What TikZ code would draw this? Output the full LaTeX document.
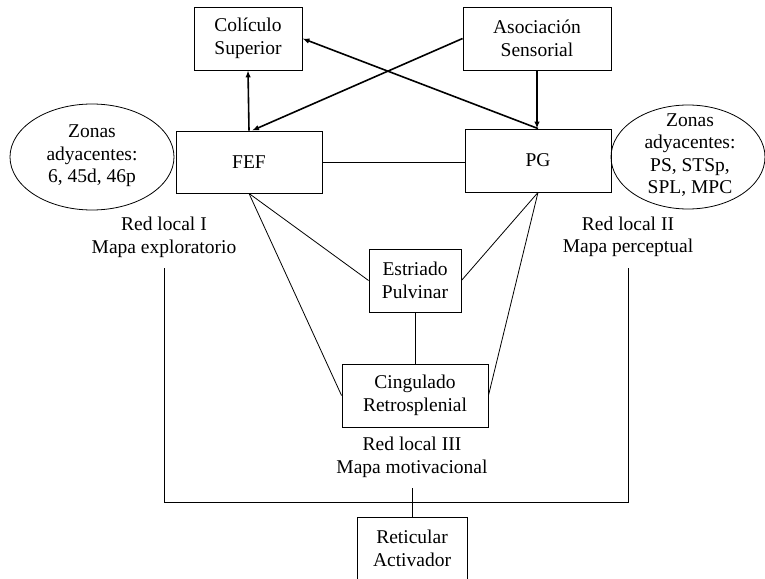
\documentclass[tikz,border=0pt]{standalone}
\usepackage{fontspec}
\setmainfont{Liberation Serif}
\usetikzlibrary{arrows.meta,shapes.geometric}
\begin{document}
\begin{tikzpicture}[x=1pt,y=-1pt,
  every node/.style={font=\fontsize{19.5}{22.5}\selectfont, align=center, inner sep=0pt},
  box/.style={draw, line width=0.9pt, rectangle},
  oval/.style={draw, ellipse, line width=0.8pt},
  arr/.style={line width=1.6pt, -{Latex[length=7pt,width=5.5pt]}},
  link/.style={line width=0.8pt}]
\useasboundingbox (0,0) rectangle (765,578);
% boxes
\node[box, minimum width=108pt, minimum height=63pt] (col) at (248,38.5) {Colículo\\Superior};
\node[box, minimum width=148pt, minimum height=63pt] (asoc) at (537,38.5) {Asociación\\Sensorial};
\node[box, minimum width=146pt, minimum height=62pt] (fef) at (249,162) {FEF};
\node[box, minimum width=146pt, minimum height=63pt] (pg) at (538,160.5) {PG};
\node[box, minimum width=92pt, minimum height=63pt] (estr) at (415,280.5) {Estriado\\Pulvinar};
\node[box, minimum width=146pt, minimum height=63pt] (cing) at (415,395.5) {Cingulado\\Retrosplenial};
\node[box, minimum width=110pt, minimum height=63pt] (ret) at (412,548.5) {Reticular\\Activador};
% ellipses
\node[oval, minimum width=164pt, minimum height=106pt] (zl) at (92,157) {};
\node at (92,156) {Zonas\\adyacentes:\\6, 45d, 46p};
\node[oval, minimum width=154pt, minimum height=104pt] (zr) at (688,157) {};
\node at (690,155) {Zonas\\adyacentes:\\PS, STSp,\\SPL, MPC};
% labels
\node (r1) at (164,237.5) {Red local I\\Mapa exploratorio};
\node (r2) at (628,237) {Red local II\\Mapa perceptual};
\node (r3) at (412,457.5) {Red local III\\Mapa motivacional};
% arrows
\draw[arr] (fef.north) -- (col.south);
\draw[arr] (asoc.west) -- ([xshift=3pt]fef.north);
\draw[arr] (pg.north) -- (col.east);
\draw[arr] (asoc.south) -- ([xshift=-1pt]pg.north);
% links
\draw[link] (fef.east) -- (fef.east -| pg.west);
\draw[link] (fef.south) -- (estr.west);
\draw[link] (fef.south) -- (cing.west);
\draw[link] (pg.south) -- (estr.east);
\draw[link] (pg.south) -- (cing.east);
\draw[link] (estr.south) -- (cing.north);
% bottom bus
\coordinate (a1) at (164,268);
\coordinate (b1) at (164,502);
\coordinate (a2) at (628,268);
\coordinate (b2) at (628,502);
\coordinate (a3) at (412,488);
\draw[line width=1pt] (a1) -- (b1) -- (b2) -- (a2);
\draw[line width=1pt] (a3) -- (ret.north);
\end{tikzpicture}
\end{document}
